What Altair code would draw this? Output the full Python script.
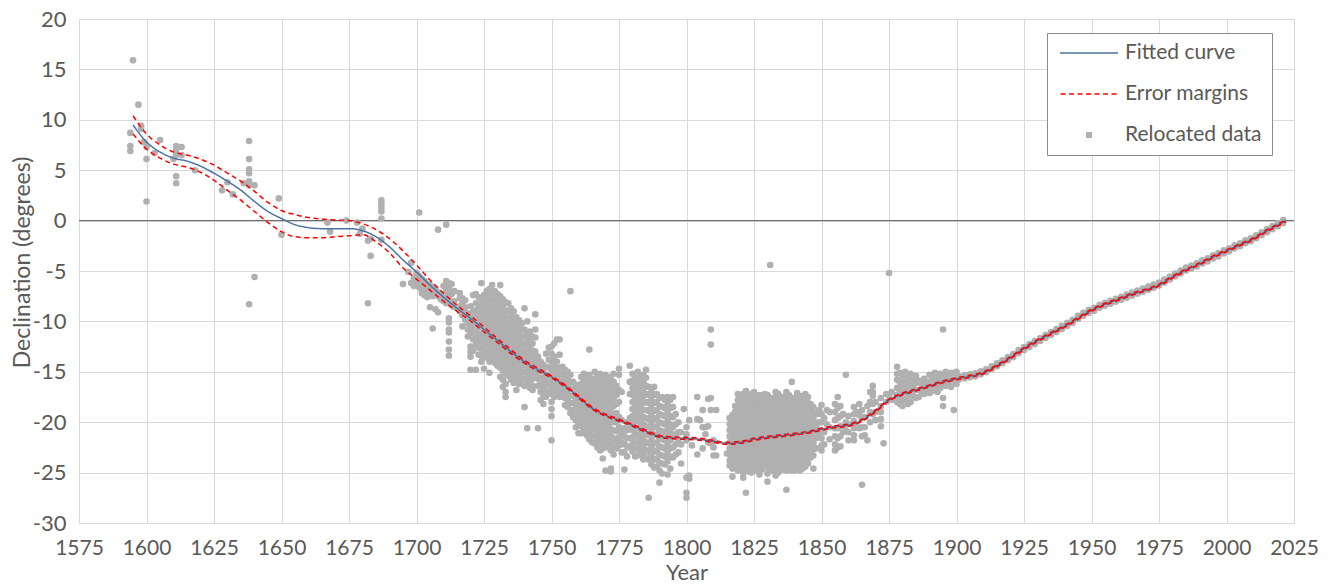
import altair as alt
import pandas as pd

FONT = "Lato"
TXT = "#595959"

# ---------------- fitted curve and error margins ----------------
curve_years = [1595, 1600, 1605, 1610, 1615, 1620, 1625, 1630, 1635, 1640, 1645, 1650,
               1655, 1660, 1665, 1670, 1675, 1680, 1685, 1690, 1695, 1700, 1705, 1710,
               1715, 1720, 1725, 1730, 1735, 1740, 1745, 1750, 1755, 1760, 1765, 1770,
               1775, 1780, 1785, 1790, 1795, 1800, 1805, 1810, 1815, 1820, 1825, 1830,
               1835, 1840, 1845, 1850, 1855, 1860, 1865, 1870, 1875, 1880, 1885, 1890,
               1895, 1900, 1905, 1910, 1915, 1920, 1925, 1930, 1935, 1940, 1945, 1950,
               1955, 1960, 1965, 1970, 1975, 1980, 1985, 1990, 1995, 2000, 2005, 2010,
               2015, 2020, 2022]
fit = [9.5, 7.8, 6.8, 6.2, 5.9, 5.4, 4.7, 3.9, 3.0, 1.9, 0.9, 0.2,
       -0.4, -0.7, -0.8, -0.8, -0.8, -1.0, -1.6, -2.6, -3.9, -5.1, -6.4, -7.6,
       -8.7, -9.7, -10.8, -11.9, -13.0, -14.0, -14.8, -15.5, -16.4, -17.5, -18.6, -19.3,
       -19.8, -20.3, -20.9, -21.4, -21.55, -21.6, -21.7, -21.9, -22.1, -22.0, -21.7, -21.5,
       -21.35, -21.2, -21.0, -20.7, -20.45, -20.3, -19.8, -18.9, -17.8, -17.2, -16.8, -16.4,
       -16.0, -15.7, -15.45, -15.1, -14.4, -13.6, -12.7, -11.9, -11.2, -10.5, -9.7, -8.9,
       -8.3, -7.8, -7.3, -6.9, -6.4, -5.6, -4.9, -4.3, -3.6, -3.0, -2.4, -1.8,
       -1.0, -0.3, 0.0]
upper = [10.4, 8.6, 7.5, 6.8, 6.5, 6.1, 5.5, 4.7, 3.9, 2.9, 1.8, 1.0,
         0.6, 0.3, 0.15, 0.05, 0.0, -0.3, -0.9, -1.8, -3.0, -4.4, -5.9, -7.2,
         -8.4, -9.45, -10.55, -11.7, -12.8, -13.85, -14.65, -15.4, -16.3, -17.4, -18.5, -19.2,
         -19.7, -20.2, -20.8, -21.3, -21.45, -21.5, -21.6, -21.8, -22.0, -21.9, -21.6, -21.4,
         -21.25, -21.1, -20.9, -20.6, -20.35, -20.2, -19.7, -18.8, -17.7, -17.1, -16.7, -16.3,
         -15.9, -15.6, -15.35, -15.0, -14.3, -13.5, -12.6, -11.8, -11.1, -10.4, -9.6, -8.8,
         -8.2, -7.7, -7.2, -6.8, -6.3, -5.5, -4.8, -4.2, -3.5, -2.9, -2.3, -1.7,
         -0.9, -0.2, 0.1]
lower = [8.6, 7.1, 6.2, 5.6, 5.3, 4.8, 4.0, 3.0, 2.0, 0.9, -0.2, -1.1,
         -1.6, -1.7, -1.7, -1.6, -1.5, -1.4, -2.1, -3.2, -4.7, -5.8, -6.9, -8.0,
         -9.0, -9.95, -11.05, -12.1, -13.2, -14.15, -14.95, -15.6, -16.5, -17.6, -18.7, -19.4,
         -19.9, -20.4, -21.0, -21.5, -21.65, -21.7, -21.8, -22.0, -22.2, -22.1, -21.8, -21.6,
         -21.45, -21.3, -21.1, -20.8, -20.55, -20.4, -19.9, -19.0, -17.9, -17.3, -16.9, -16.5,
         -16.1, -15.8, -15.55, -15.2, -14.5, -13.7, -12.8, -12.0, -11.3, -10.6, -9.8, -9.0,
         -8.4, -7.9, -7.4, -7.0, -6.5, -5.7, -5.0, -4.4, -3.7, -3.1, -2.5, -1.9,
         -1.1, -0.4, -0.1]

# ---------------- relocated observations (year, declinations) ----------------
relocated = [
    (1594, [8.7, 7.4, 6.9]), (1595, [15.9]), (1597, [11.5]), (1598, [9.4, 9.1]),
    (1599, [7.8]), (1600, [7.3, 6.1, 1.9]), (1603, [6.7]), (1605, [8.0]),
    (1610, [6.1]), (1611, [7.4, 7.0, 6.5, 4.4, 3.7]), (1613, [7.3, 6.5]),
    (1618, [5.0]), (1628, [3.0]), (1630, [3.8]), (1632, [2.6]), (1636, [3.7]),
    (1638, [7.9, 6.1, 5.1, 4.7, 3.9, 3.5, -8.3]), (1640, [3.5, -5.6]),
    (1649, [2.2]), (1650, [-1.4]), (1667, [-0.2]), (1668, [-1.1]), (1674, [0.0]),
    (1678, [-0.2]), (1679, [-1.3]), (1680, [-0.8]), (1682, [-2.0, -8.2]),
    (1683, [-1.8, -3.5]), (1687, [2.0, 1.7, 1.3, 0.9, 0.2, -1.9]),
    (1695, [-6.3]), (1697, [-5.1]), (1698, [-4.2, -6.2]), (1699, [-5.8, -6.5]),
    (1700, [-5.2, -5.6, -6.0]), (1701, [0.8, -5.5, -6.3, -6.6]),
    (1702, [-5.8, -6.2, -6.9, -7.2]), (1703, [-6.0, -6.4, -6.8, -7.4]),
    (1704, [-6.3, -6.7, -7.1, -7.6]), (1705, [-6.4, -6.9, -7.3, -8.6]),
    (1706, [-6.6, -7.0, -7.5, -10.7]), (1707, [-6.8, -7.2, -8.8]),
    (1708, [-0.9, -7.1, -7.5, -9.1]), (1709, [-7.3, -7.8]), (1710, [-6.5, -7.5, -8.0]),
    (1711, [-0.4, -6.0, -6.4, -7.0, -7.7, -8.2]),
    (1712, [-6.2, -6.6, -7.0, -7.5, -8.0, -9.7, -10.1, -10.8, -11.1, -12.0, -12.8, -13.4]),
    (1713, [-6.3, -7.3, -8.4]), (1714, [-7.0, -8.0, -8.6]),
    (1716, [-7.2, -7.7, -8.5, -9.0]), (1717, [-7.7, -8.2, -8.9, -9.4, -10.5]),
    (1718, [-7.9, -8.6, -9.2, -9.8]), (1719, [-9.2, -9.7, -10.2, -10.8, -11.5]),
    (1720, [-8.5, -9.5, -10.0, -10.7, -11.2, -12.5, -13.0, -13.5, -14.8]),
    (1721, [-7.4, -9.0, -9.8, -10.4, -11.0, -11.8, -12.9]),
    (1722, [-7.3, -8.2, -8.9, -9.6, -10.3, -11.0, -11.6, -12.3, -14.8]),
    (1723, [-7.6, -8.4, -9.1, -9.8, -10.5, -11.2, -11.9, -12.6, -13.3]),
    (1724, [-6.2, -7.8, -8.5, -9.2, -9.9, -10.6, -11.3, -12.0, -12.7, -13.4, -14.0]),
    (1725, [-7.4, -8.1, -8.8, -9.5, -10.2, -10.9, -11.6, -12.3, -13.0, -13.6, -14.7]),
    (1726, [-7.0, -7.8, -8.6, -9.3, -10.0, -10.7, -11.4, -12.1, -12.8, -13.5]),
    (1727, [-6.8, -7.5, -8.3, -9.0, -9.7, -10.4, -11.1, -11.8, -12.5, -13.2, -14.0, -15.1]),
    (1728, [-6.4, -7.2, -8.0, -8.8, -9.5, -10.2, -10.9, -11.6, -12.3, -13.0, -13.7]),
    (1729, [-7.0, -7.8, -8.5, -9.2, -9.9, -10.6, -11.3, -12.0, -12.7, -13.4, -14.1]),
    (1730, [-7.3, -8.0, -8.8, -9.5, -10.2, -10.9, -11.6, -12.3, -13.0, -13.7, -14.4]),
    (1731, [-6.4, -7.5, -8.3, -9.0, -9.7, -10.4, -11.1, -11.8, -12.5, -13.2, -13.9, -14.6, -15.5]),
    (1732, [-7.8, -8.6, -9.3, -10.0, -10.7, -11.4, -12.1, -12.8, -13.5, -14.2, -14.9, -15.8, -16.5]),
    (1733, [-8.1, -8.9, -9.6, -10.3, -11.0, -11.7, -12.4, -13.1, -13.8, -14.5, -15.2, -16.2, -17.0, -17.5]),
    (1734, [-8.2, -9.0, -9.8, -10.5, -11.2, -11.9, -12.6, -13.3, -14.0, -14.7, -15.4]),
    (1735, [-8.7, -9.5, -10.2, -10.9, -11.6, -12.3, -13.0, -13.7, -14.4, -15.1, -15.8]),
    (1736, [-9.0, -9.8, -10.5, -11.2, -11.9, -12.6, -13.3, -14.0, -14.7, -15.4, -16.1]),
    (1737, [-9.6, -10.3, -11.0, -11.7, -12.4, -13.1, -13.8, -14.5, -15.2, -15.9, -16.8]),
    (1738, [-9.9, -10.6, -11.3, -12.0, -12.7, -13.4, -14.1, -14.8, -15.5, -16.2]),
    (1739, [-10.2, -10.9, -11.6, -12.3, -13.0, -13.7, -14.4, -15.1, -15.8]),
    (1740, [-8.7, -10.8, -11.5, -12.2, -12.9, -13.6, -14.3, -15.0, -15.7, -16.4, -18.5]),
    (1741, [-10.0, -11.3, -12.0, -12.7, -13.4, -14.1, -14.8, -15.5, -16.2, -20.6]),
    (1742, [-11.0, -11.7, -12.4, -13.1, -13.8, -14.5, -15.2, -15.9, -16.6]),
    (1743, [-11.5, -12.2, -12.9, -13.6, -14.3, -15.0, -15.7, -16.4, -16.8]),
    (1744, [-9.3, -10.8, -11.6, -13.0, -14.0, -14.8, -15.5]),
    (1745, [-13.5, -14.3, -15.0, -15.7, -16.4, -20.6]),
    (1746, [-14.0, -14.8, -15.6, -16.3, -17.0, -17.8]),
    (1747, [-14.3, -15.0, -15.8, -16.6, -17.3, -18.2]),
    (1748, [-13.2, -14.5, -15.3, -16.0, -16.8, -17.5]),
    (1749, [-12.6, -13.8, -14.6, -15.4, -16.2, -17.0]),
    (1750, [-12.5, -13.2, -14.0, -14.8, -15.6, -16.4, -17.2, -18.0, -18.7, -19.4, -21.8]),
    (1751, [-12.2, -13.5, -14.3, -15.1, -15.9, -16.7, -17.5]),
    (1752, [-11.8, -14.0, -14.8, -15.6, -16.4, -17.2]),
    (1753, [-11.8, -13.3, -14.6, -15.3, -16.0, -16.8, -17.5]),
    (1754, [-14.5, -15.2, -15.9, -16.6, -17.3]),
    (1755, [-14.8, -15.5, -16.2, -16.9, -17.6, -18.3]),
    (1756, [-15.0, -15.7, -16.4, -17.1, -17.8, -18.5]),
    (1757, [-7.0, -15.3, -16.0, -16.7, -17.4, -18.1, -19.1]),
    (1758, [-16.0, -16.7, -17.4, -18.1, -18.8, -19.5]),
    (1759, [-16.3, -17.0, -17.7, -18.4, -19.1, -19.8, -20.5]),
    (1760, [-16.6, -17.3, -18.0, -18.7, -19.4, -20.1, -21.1]),
    (1761, [-15.5, -16.2, -16.9, -17.6, -18.3, -19.0, -19.7, -20.4, -21.1]),
    (1762, [-15.2, -15.9, -16.6, -17.3, -18.0, -18.7, -19.4, -20.1, -20.8]),
    (1763, [-15.6, -16.3, -17.0, -17.7, -18.4, -19.1, -19.8, -20.5, -21.3]),
    (1764, [-12.8, -15.3, -16.0, -16.7, -17.4, -18.1, -18.8, -19.5, -20.2, -20.9, -21.7]),
    (1765, [-15.7, -16.4, -17.1, -17.8, -18.5, -19.2, -19.9, -20.6, -21.3, -22.0]),
    (1766, [-15.0, -15.8, -16.5, -17.2, -17.9, -18.6, -19.3, -20.0, -20.7, -21.4, -22.1]),
    (1767, [-15.4, -16.1, -16.8, -17.5, -18.2, -18.9, -19.6, -20.3, -21.0, -21.7, -22.5]),
    (1768, [-15.2, -15.9, -16.6, -17.3, -18.0, -18.7, -19.4, -20.1, -20.8, -21.5, -22.2, -22.8]),
    (1769, [-15.6, -16.3, -17.0, -17.7, -18.4, -19.1, -19.8, -20.5, -21.2, -21.9, -22.6, -23.6]),
    (1770, [-15.3, -16.0, -16.7, -17.4, -18.1, -18.8, -19.5, -20.2, -20.9, -21.6, -22.3, -24.8]),
    (1771, [-15.5, -16.2, -16.9, -17.6, -18.3, -19.0, -19.7, -20.4, -21.1, -21.8, -22.5]),
    (1772, [-15.8, -16.5, -17.2, -17.9, -18.6, -19.3, -20.0, -20.7, -21.4, -22.1, -22.8, -24.6, -24.9]),
    (1773, [-15.2, -16.0, -16.8, -17.6, -18.4, -19.2, -20.0, -20.8, -21.6, -22.4, -23.2]),
    (1774, [-16.4, -17.3, -18.2, -19.1, -20.0, -20.9, -21.8, -22.6]),
    (1775, [-14.7, -15.3, -16.8, -18.0, -19.5, -20.5, -21.5, -22.3]),
    (1776, [-17.0, -19.8, -21.0, -22.0, -23.0]),
    (1777, [-20.6, -21.4, -22.2, -23.0, -24.7]),
    (1778, [-20.0, -20.8, -21.6, -22.4, -23.4]),
    (1779, [-14.4, -16.0, -17.2, -19.6, -20.6, -21.6, -22.5]),
    (1780, [-15.2, -15.9, -16.6, -17.3, -18.0, -18.7, -19.4, -20.1, -20.8, -21.5, -22.2, -22.9]),
    (1781, [-15.6, -16.3, -17.0, -17.7, -18.4, -19.1, -19.8, -20.5, -21.2, -21.9, -22.6, -23.4]),
    (1782, [-15.0, -15.7, -16.4, -17.1, -17.8, -18.5, -19.2, -19.9, -20.6, -21.3, -22.0, -22.7, -23.3]),
    (1783, [-15.5, -16.2, -16.9, -17.6, -18.3, -19.0, -19.7, -20.4, -21.1, -21.8, -22.5, -23.2]),
    (1784, [-15.3, -16.0, -16.7, -17.4, -18.1, -18.8, -19.5, -20.2, -20.9, -21.6, -22.3, -23.0, -23.7]),
    (1785, [-14.8, -15.6, -16.4, -17.2, -18.0, -18.8, -19.6, -20.4, -21.2, -22.0, -22.8, -23.5]),
    (1786, [-16.5, -17.3, -18.1, -18.9, -19.7, -20.5, -21.3, -22.1, -22.9, -23.7, -27.5]),
    (1787, [-17.0, -17.8, -18.6, -19.4, -20.2, -21.0, -21.8, -22.6, -23.4, -24.2]),
    (1788, [-16.5, -17.3, -18.1, -18.9, -19.7, -20.5, -21.3, -22.1, -22.9, -23.7, -24.5]),
    (1789, [-17.2, -18.0, -18.8, -19.6, -20.4, -21.2, -22.0, -22.8, -23.6, -24.4]),
    (1790, [-17.6, -18.4, -19.2, -20.0, -20.8, -21.6, -22.4, -23.2, -24.0, -24.8, -26.0]),
    (1791, [-17.5, -18.5, -19.3, -20.1, -20.9, -21.7, -22.5, -23.3, -24.1, -25.1]),
    (1792, [-17.8, -18.6, -19.4, -20.2, -21.0, -21.8, -22.6, -23.4, -24.2]),
    (1793, [-17.5, -18.3, -19.1, -19.9, -20.7, -21.5, -22.3, -23.1, -23.9, -25.2]),
    (1794, [-17.8, -18.6, -19.4, -20.2, -21.0, -21.8, -22.6, -23.4, -24.6]),
    (1795, [-17.5, -18.5, -19.5, -20.5, -21.5, -22.5, -23.5]),
    (1796, [-19.2, -20.2, -21.2, -22.2, -23.2]),
    (1797, [-20.0, -21.0, -22.0, -23.0]),
    (1798, [-21.0, -22.2, -24.1]), (1799, [-18.7]),
    (1800, [-20.5, -21.2, -21.8, -25.5, -27.0, -27.5]),
    (1801, [-19.8, -25.3, -25.6]), (1802, [-22.3]),
    (1804, [-17.5, -19.7, -23.2]), (1805, [-19.8]), (1806, [-18.8, -20.5, -22.6]),
    (1807, [-20.5, -21.2]), (1808, [-17.7, -20.4, -22.0]),
    (1809, [-10.8, -12.3, -17.6, -18.8, -22.1]), (1810, [-21.8, -22.5, -23.3]),
    (1811, [-18.8, -23.3]), (1815, [-23.1]),
    (1816, [-19.6, -20.2, -20.8, -21.4, -22.0, -22.6, -23.2, -23.8, -24.3]),
    (1817, [-19.3, -19.9, -20.5, -21.1, -21.7, -22.3, -22.9, -23.5, -24.1, -24.6, -25.4]),
    (1818, [-18.4, -19.0, -19.6, -20.2, -20.8, -21.4, -22.0, -22.6, -23.2, -23.8, -24.4]),
    (1819, [-17.2, -17.8, -18.4, -19.0, -19.6, -20.2, -20.8, -21.4, -22.0, -22.6, -23.2, -23.8, -24.4, -24.8]),
    (1820, [-17.5, -18.1, -18.7, -19.3, -19.9, -20.5, -21.1, -21.7, -22.3, -22.9, -23.5, -24.1, -24.7]),
    (1821, [-17.2, -17.8, -18.4, -19.0, -19.6, -20.2, -20.8, -21.4, -22.0, -22.6, -23.2, -23.8, -24.4, -25.0, -25.5]),
    (1822, [-16.9, -17.5, -18.1, -18.7, -19.3, -19.9, -20.5, -21.1, -21.7, -22.3, -22.9, -23.5, -24.1, -24.7, -27.0]),
    (1823, [-17.2, -17.8, -18.4, -19.0, -19.6, -20.2, -20.8, -21.4, -22.0, -22.6, -23.2, -23.8, -24.4, -24.9]),
    (1824, [-17.3, -17.9, -18.5, -19.1, -19.7, -20.3, -20.9, -21.5, -22.1, -22.7, -23.3, -23.9, -24.5, -25.0]),
    (1825, [-17.0, -17.6, -18.2, -18.8, -19.4, -20.0, -20.6, -21.2, -21.8, -22.4, -23.0, -23.6, -24.2, -24.8]),
    (1826, [-17.6, -18.2, -18.8, -19.4, -20.0, -20.6, -21.2, -21.8, -22.4, -23.0, -23.6, -24.2, -24.8]),
    (1827, [-17.3, -17.9, -18.5, -19.1, -19.7, -20.3, -20.9, -21.5, -22.1, -22.7, -23.3, -23.9, -24.5, -25.2]),
    (1828, [-17.5, -18.1, -18.7, -19.3, -19.9, -20.5, -21.1, -21.7, -22.3, -22.9, -23.5, -24.1, -24.7]),
    (1829, [-17.2, -17.8, -18.4, -19.0, -19.6, -20.2, -20.8, -21.4, -22.0, -22.6, -23.2, -23.8, -24.4]),
    (1830, [-17.3, -17.9, -18.5, -19.1, -19.7, -20.3, -20.9, -21.5, -22.1, -22.7, -23.3, -23.9, -24.5, -25.1, -25.9]),
    (1831, [-4.4, -17.6, -18.2, -18.8, -19.4, -20.0, -20.6, -21.2, -21.8, -22.4, -23.0, -23.6, -24.2, -24.8]),
    (1832, [-17.6, -18.2, -18.8, -19.4, -20.0, -20.6, -21.2, -21.8, -22.4, -23.0, -23.6, -24.2, -24.8]),
    (1833, [-17.0, -17.5, -18.1, -18.7, -19.3, -19.9, -20.5, -21.1, -21.7, -22.3, -22.9, -23.5, -24.1, -24.7, -25.3]),
    (1834, [-17.2, -17.8, -18.4, -19.0, -19.6, -20.2, -20.8, -21.4, -22.0, -22.6, -23.2, -23.8, -24.4, -25.0]),
    (1835, [-17.5, -18.1, -18.7, -19.3, -19.9, -20.5, -21.1, -21.7, -22.3, -22.9, -23.5, -24.1, -24.7]),
    (1836, [-17.5, -18.1, -18.7, -19.3, -19.9, -20.5, -21.1, -21.7, -22.3, -22.9, -23.5, -24.1, -24.7]),
    (1837, [-17.0, -17.6, -18.2, -18.8, -19.4, -20.0, -20.6, -21.2, -21.8, -22.4, -23.0, -23.6, -24.2, -24.8, -26.7]),
    (1838, [-17.3, -17.9, -18.5, -19.1, -19.7, -20.3, -20.9, -21.5, -22.1, -22.7, -23.3, -23.9, -24.5]),
    (1839, [-16.0, -17.6, -18.2, -18.8, -19.4, -20.0, -20.6, -21.2, -21.8, -22.4, -23.0, -23.6, -24.2, -24.8]),
    (1840, [-17.6, -18.2, -18.8, -19.4, -20.0, -20.6, -21.2, -21.8, -22.4, -23.0, -23.6, -24.2, -24.8]),
    (1841, [-17.1, -17.7, -18.3, -18.9, -19.5, -20.1, -20.7, -21.3, -21.9, -22.5, -23.1, -23.7, -24.3]),
    (1842, [-17.4, -18.0, -18.6, -19.2, -19.8, -20.4, -21.0, -21.6, -22.2, -22.8, -23.4, -24.0, -24.8]),
    (1843, [-17.5, -18.1, -18.7, -19.3, -19.9, -20.5, -21.1, -21.7, -22.3, -22.9, -23.5, -24.1, -24.6]),
    (1844, [-17.2, -17.8, -18.4, -19.0, -19.6, -20.2, -20.8, -21.4, -22.0, -22.6, -23.2, -23.8, -24.4]),
    (1845, [-17.5, -18.1, -18.7, -19.3, -19.9, -20.5, -21.1, -21.7, -22.3, -22.9, -23.5, -24.1]),
    (1846, [-18.2, -18.8, -19.4, -20.0, -20.6, -21.2, -21.8, -22.4, -23.0, -23.5]),
    (1847, [-18.5, -19.1, -19.7, -20.3, -20.9, -21.5, -22.1, -22.7, -23.3, -24.6]),
    (1848, [-19.2, -20.4, -21.6, -22.6]), (1849, [-18.8, -20.0, -21.2]),
    (1850, [-18.3, -19.2, -20.0, -20.8, -21.6, -22.3, -22.8]),
    (1851, [-19.6, -21.0, -22.2]), (1852, [-18.8, -20.2]), (1853, [-19.0, -20.5, -21.7]),
    (1855, [-18.2, -19.0, -19.8, -20.6, -21.4, -22.2, -22.8]),
    (1856, [-17.5, -18.6, -19.6, -20.6, -21.6, -22.5]),
    (1857, [-18.4, -19.4, -20.4, -21.4, -22.4]), (1858, [-19.2, -21.0]),
    (1859, [-15.3, -20.0, -20.8]), (1860, [-19.4, -20.2, -21.0, -21.8]),
    (1862, [-18.5, -19.2, -19.9, -20.6, -21.3, -21.8]), (1863, [-19.0, -20.4]),
    (1864, [-18.2, -19.3, -20.6]), (1865, [-18.8, -19.6, -20.5, -21.4, -26.2]),
    (1866, [-19.5, -20.5, -21.3]), (1867, [-18.4, -21.8]),
    (1868, [-17.0, -18.0, -19.0, -20.0]), (1869, [-16.4, -17.0, -17.4, -18.2, -19.2]),
    (1870, [-18.0, -19.0, -19.8]), (1872, [-17.6, -18.4, -19.0, -19.7, -20.4]),
    (1873, [-22.1]), (1874, [-17.2, -18.0]), (1875, [-5.2, -17.4]), (1876, [-17.0, -17.8]),
    (1878, [-14.5, -15.2, -15.8, -16.6, -17.3, -18.0]),
    (1879, [-15.1, -16.0, -16.8, -17.6, -18.2]),
    (1880, [-15.4, -16.3, -17.0, -17.8, -18.4]),
    (1881, [-15.0, -16.0, -16.9, -17.7]), (1882, [-15.6, -16.5, -17.4, -18.2]),
    (1883, [-15.2, -16.2, -17.1, -18.0]), (1884, [-15.8, -16.6, -17.4]),
    (1885, [-15.4, -16.1, -16.8, -17.6]), (1886, [-15.9, -16.8, -17.5]),
    (1887, [-16.2, -17.0]), (1888, [-15.7, -16.5, -17.2]), (1889, [-16.0, -16.8]),
    (1890, [-15.3, -16.0, -16.7, -17.1]), (1891, [-15.6, -16.4, -16.9]),
    (1892, [-15.1, -15.8, -16.5]), (1893, [-15.5, -16.3, -17.0]),
    (1894, [-15.2, -15.9, -16.6]), (1895, [-10.8, -15.4, -16.1, -17.6, -18.4]),
    (1896, [-15.0, -15.7, -16.4]), (1897, [-15.3, -16.0]),
    (1898, [-15.1, -15.8, -16.5]), (1899, [-15.2, -15.9, -18.8]),
    (1900, [-15.0, -15.4, -15.8, -16.2]),
    (1901, [-15.45, -15.75]), (1903, [-15.35, -15.65]), (1905, [-15.25, -15.55]),
    (1907, [-15.15, -15.45]), (1909, [-14.95, -15.25]), (1911, [-14.75, -15.05]),
    (1913, [-14.45, -14.75]), (1915, [-14.15, -14.45]), (1917, [-13.85, -14.15]),
    (1919, [-13.55, -13.85]), (1921, [-13.25, -13.55]), (1923, [-12.85, -13.15]),
    (1925, [-12.55, -12.85]), (1927, [-12.25, -12.55]), (1929, [-11.95, -12.25]),
    (1931, [-11.65, -11.95]), (1933, [-11.35, -11.65]), (1935, [-11.05, -11.35]),
    (1937, [-10.75, -11.05]), (1939, [-10.45, -10.75]), (1941, [-10.15, -10.45]),
    (1943, [-9.85, -10.15]), (1945, [-9.45, -9.75]), (1947, [-9.15, -9.45]),
    (1949, [-8.85, -9.15]), (1951, [-8.65, -8.95]), (1953, [-8.35, -8.65]),
    (1955, [-8.15, -8.45]), (1957, [-7.95, -8.25]), (1959, [-7.75, -8.05]),
    (1961, [-7.55, -7.85]), (1963, [-7.35, -7.65]), (1965, [-7.15, -7.45]),
    (1967, [-6.95, -7.25]), (1969, [-6.75, -7.05]), (1971, [-6.55, -6.85]),
    (1973, [-6.35, -6.65]), (1975, [-6.15, -6.45]), (1977, [-5.85, -6.15]),
    (1979, [-5.55, -5.85]), (1981, [-5.25, -5.55]), (1983, [-4.95, -5.25]),
    (1985, [-4.65, -4.95]), (1987, [-4.45, -4.75]), (1989, [-4.25, -4.55]),
    (1991, [-3.95, -4.25]), (1993, [-3.75, -4.05]), (1995, [-3.45, -3.75]),
    (1997, [-3.25, -3.55]), (1999, [-2.95, -3.25]), (2001, [-2.75, -3.05]),
    (2003, [-2.45, -2.75]), (2005, [-2.25, -2.55]), (2007, [-1.95, -2.25]),
    (2009, [-1.75, -2.05]), (2011, [-1.45, -1.75]), (2013, [-1.15, -1.45]),
    (2015, [-0.85, -1.15]), (2017, [-0.55, -0.85]), (2019, [-0.25, -0.55]),
    (2021, [0.05, -0.25]),
]

x_ticks = [1575, 1600, 1625, 1650, 1675, 1700, 1725, 1750, 1775, 1800, 1825, 1850,
           1875, 1900, 1925, 1950, 1975, 2000, 2025]
y_ticks = [-30, -25, -20, -15, -10, -5, 0, 5, 10, 15, 20]

series_names = ["Fitted curve", "Error margins", "Relocated data"]
series_colors = ["#4A74A0", "#FF0000", "#B0B0B0"]

# ---------------- tables ----------------
obs_df = pd.DataFrame(
    [{"year": y, "decl": v} for y, vals in relocated for v in vals]
)
fit_df = pd.DataFrame({"year": curve_years, "decl": fit, "series": "Fitted curve", "part": "fit"})
margin_df = pd.concat([
    pd.DataFrame({"year": curve_years, "decl": upper, "series": "Error margins", "part": "upper"}),
    pd.DataFrame({"year": curve_years, "decl": lower, "series": "Error margins", "part": "lower"}),
])

x_enc = alt.X("year:Q", scale=alt.Scale(domain=[1575, 2025], nice=False, zero=False),
              axis=alt.Axis(values=x_ticks, title="Year", labelExpr="toString(datum.value)",
                            labelOverlap=False, labelFlush=False, labelBound=False,
                            labelFontSize=21, labelPadding=14,
                            titleX=607.5, titleY=56, titleBaseline="alphabetic"))
y_enc = alt.Y("decl:Q", scale=alt.Scale(domain=[-30, 20], nice=False, zero=False),
              axis=alt.Axis(values=y_ticks, title="Declination (degrees)",
                            labelExpr="toString(datum.value)", labelOverlap=False,
                            labelFlush=False, labelBound=False,
                            titleAngle=270, titleX=-50, titleY=243, titleFontSize=23,
                            titleAlign="center", titleBaseline="alphabetic"))

legend = alt.Legend(title=None, orient="none", legendX=968, legendY=14,
                    symbolType="stroke", symbolSize=3364, clipHeight=20,
                    rowPadding=20, padding=10, strokeColor="#8c8c8c", fillColor="white",
                    labelFont=FONT, labelFontSize=21, labelColor=TXT, labelOffset=4,
                    symbolDashOffset=-26, labelLimit=400)

color_enc = alt.Color("series:N", scale=alt.Scale(domain=series_names, range=series_colors),
                      legend=legend)
dash_enc = alt.StrokeDash("series:N",
                          scale=alt.Scale(domain=series_names,
                                          range=[[1, 0], [5, 3.5], [6, 1000]]),
                          legend=legend)
width_enc = alt.StrokeWidth("series:N",
                            scale=alt.Scale(type="ordinal", domain=series_names,
                                            range=[1.5, 1.5, 6]),
                            legend=legend)

points = alt.Chart(obs_df).mark_circle(size=44, opacity=1, color="#B0B0B0").encode(
    x=x_enc, y=y_enc)

zero_rule = alt.Chart(pd.DataFrame({"decl": [0]})).mark_rule(
    color="#5f5f5f", strokeWidth=1).encode(y="decl:Q")

fit_line = alt.Chart(fit_df).mark_line(interpolate="monotone").encode(
    x=x_enc, y=y_enc, color=color_enc, strokeDash=dash_enc, strokeWidth=width_enc,
    detail="part:N")

margin_lines = alt.Chart(margin_df).mark_line(interpolate="monotone").encode(
    x=x_enc, y=y_enc, color=color_enc, strokeDash=dash_enc, strokeWidth=width_enc,
    detail="part:N")

chart = alt.layer(zero_rule, points, fit_line, margin_lines).properties(
    width=1215, height=504,
    autosize=alt.AutoSizeParams(type="none"),
    padding={"left": 79, "top": 19, "right": 41, "bottom": 63},
).configure_view(stroke=None).configure_axis(
    grid=True, gridColor="#d9d9d9", gridWidth=1, domain=False, ticks=False,
    labelFont=FONT, labelFontSize=22, labelColor=TXT, labelPadding=13,
    titleFont=FONT, titleFontSize=22, titleColor=TXT, titleFontWeight="normal",
)

chart.save("out.html", embed_options={"renderer": "svg", "actions": False})
